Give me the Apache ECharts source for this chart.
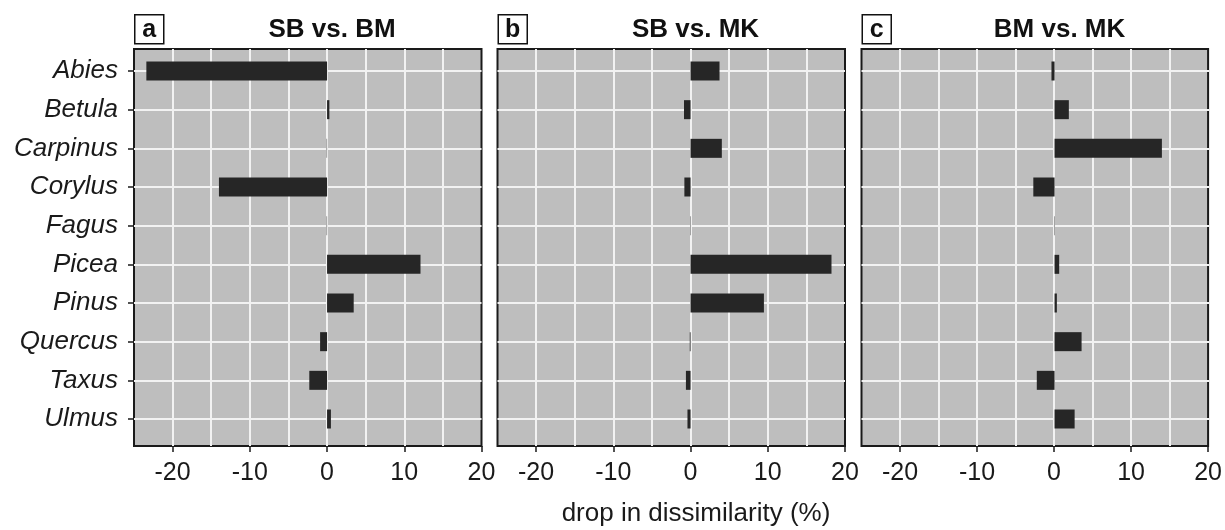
<!DOCTYPE html>
<html>
<head>
<meta charset="utf-8">
<title>drop in dissimilarity</title>
<script src="https://cdn.jsdelivr.net/npm/echarts@6.0.0/dist/echarts.min.js"></script>
<style>
  html, body { margin: 0; padding: 0; background: #fff; }
  #chart { width: 1225px; height: 530px; }
</style>
</head>
<body>
<div id="chart"></div>
<script>
// taxa, top to bottom
var categories = ['Abies', 'Betula', 'Carpinus', 'Corylus', 'Fagus', 'Picea', 'Pinus', 'Quercus', 'Taxus', 'Ulmus']
// drop in dissimilarity (%) per comparison
var sbVsBm = [-23.4, 0.3, -0.05, -14.0, -0.05, 12.1, 3.45, -0.9, -2.3, 0.5]
var sbVsMk = [3.75, -0.85, 4.05, -0.8, 0.05, 18.25, 9.5, -0.1, -0.6, -0.4]
var bmVsMk = [-0.4, 1.85, 13.9, -2.75, 0.05, 0.6, 0.3, 3.5, -2.3, 2.6]
var panelTags = ['a', 'b', 'c']
var panelTitles = ['SB vs. BM', 'SB vs. MK', 'BM vs. MK']
var xTicks = [-20, -10, 0, 10, 20]
var xMin = -25
var xMax = 20

var panels = [sbVsBm, sbVsMk, bmVsMk]
var font = '"Liberation Sans", Arial, Helvetica, sans-serif'
var panelLeft = [134, 497.5, 861.5]
var panelWidth = 347.5
var panelTop = 49
var panelHeight = 397
var rowTop = 71      // centre of first category
var rowHeight = 348  // distance first -> last category centre
var gridColor = '#f2f2f2'

var grid = []
var xAxis = []
var yAxis = []
var series = []
var title = []
var graphic = []

panels.forEach(function (values, i) {
  var left = panelLeft[i]
  // frame grid: grey panel, border, vertical grid lines, x ticks
  grid.push({
    left: left, top: panelTop, width: panelWidth, height: panelHeight,
    show: true, backgroundColor: '#bebebe', borderColor: '#1a1a1a', borderWidth: 2
  })
  // data grid: category rows with horizontal grid lines
  grid.push({
    left: left, top: rowTop, width: panelWidth, height: rowHeight
  })
  var g = grid.length - 2
  // x ticks / labels only at every 10
  xAxis.push({
    gridIndex: g, type: 'value', min: xMin, max: xMax, interval: 5, position: 'bottom',
    axisLine: { show: false },
    axisTick: { show: true, customValues: xTicks, length: 6, lineStyle: { color: '#1a1a1a', width: 1.5 } },
    axisLabel: { customValues: xTicks, fontSize: 25, color: '#1a1a1a', fontFamily: font, margin: 15 },
    splitLine: { show: false }
  })
  // vertical grid lines every 5
  xAxis.push({
    gridIndex: g, type: 'value', min: xMin, max: xMax, interval: 5, position: 'top',
    axisLine: { show: false }, axisTick: { show: false }, axisLabel: { show: false },
    splitLine: { show: true, showMinLine: false, showMaxLine: false, lineStyle: { color: gridColor, width: 2 } }
  })
  xAxis.push({
    gridIndex: g + 1, type: 'value', min: xMin, max: xMax, show: false
  })
  yAxis.push({
    gridIndex: g, type: 'value', show: false
  })
  yAxis.push({
    gridIndex: g + 1, type: 'category', data: categories, inverse: true, boundaryGap: false,
    axisLine: { show: false, onZero: false },
    axisTick: { show: i === 0, interval: 0, length: 6, lineStyle: { color: '#1a1a1a', width: 1.5 } },
    axisLabel: { show: i === 0, interval: 0, fontSize: 26, fontStyle: 'italic', color: '#1a1a1a', fontFamily: font, margin: 16 },
    splitLine: { show: true, interval: 0, lineStyle: { color: gridColor, width: 2 } }
  })
  series.push({
    type: 'bar', xAxisIndex: xAxis.length - 1, yAxisIndex: yAxis.length - 1,
    data: values, barWidth: 19,
    itemStyle: { color: '#262626' }
  })
  // title centred above the zero line
  title.push({
    text: panelTitles[i],
    left: left + panelWidth * (0 - xMin) / (xMax - xMin),
    top: 12, textAlign: 'center',
    textStyle: { fontSize: 26, fontWeight: 'bold', color: '#111', fontFamily: font }
  })
  // boxed panel letter
  graphic.push({
    type: 'group', left: left, top: 14,
    children: [
      { type: 'rect', shape: { x: 0, y: 0, width: 29, height: 29 }, style: { fill: '#fff', stroke: '#111', lineWidth: 1.5 } },
      { type: 'text', x: 14.5, y: 15, style: { text: panelTags[i], fontSize: 25, fontWeight: 'bold', fill: '#111', fontFamily: font, align: 'center', verticalAlign: 'middle' } }
    ]
  })
})

title.push({
  text: 'drop in dissimilarity (%)',
  left: 691, top: 496, textAlign: 'center',
  textStyle: { fontSize: 26, fontWeight: 'normal', color: '#1a1a1a', fontFamily: font }
})

var myChart = echarts.init(document.getElementById('chart'))
myChart.setOption({
  animation: false,
  title: title,
  grid: grid,
  xAxis: xAxis,
  yAxis: yAxis,
  series: series,
  graphic: graphic
})
</script>
</body>
</html>
